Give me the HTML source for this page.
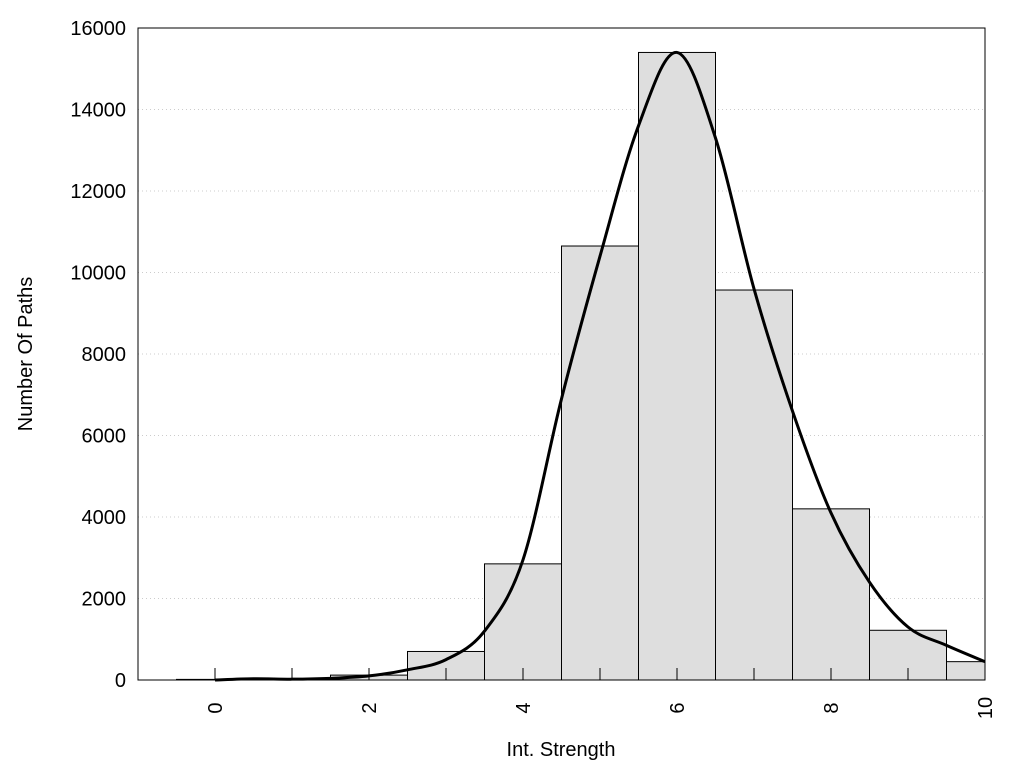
<!DOCTYPE html>
<html><head><meta charset="utf-8"><style>
body{margin:0;background:#fff;}
svg{display:block;font-family:"Liberation Sans",sans-serif;}
</style></head><body>
<svg width="1024" height="768" id="chart"></svg>
<script>
const binCenters=[0,1,2,3,4,5,6,7,8,9,10];
const binCounts=[15,15,120,700,2850,10650,15400,9570,4200,1220,450];
const curveX=[0,0.5,1,1.5,2,2.5,3,3.5,4,4.5,5,5.5,6,6.5,7,7.5,8,8.5,9,9.5,10];
const curveY=[0,30,20,40,100,250,500,1200,2950,6900,10400,13600,15400,13300,9600,6600,4100,2400,1300,850,450];
const yTicks=[0,2000,4000,6000,8000,10000,12000,14000,16000];
const xTickLabels=[0,2,4,6,8,10];
const xTicks=[0,1,2,3,4,5,6,7,8,9,10];
const L=138,R=985,T=28,B=680;
const xs=v=>L+(v+1)/11*(R-L);
const ys=v=>B-v/16000*(B-T);
const svg=document.getElementById('chart');
const NS='http://www.w3.org/2000/svg';
function mk(tag,attrs,parent){const e=document.createElementNS(NS,tag);for(const k in attrs)e.setAttribute(k,attrs[k]);(parent||svg).appendChild(e);return e;}
// grid
yTicks.forEach(v=>{if(v===0||v===16000)return;const g=mk('line',{x1:L,x2:R,y1:ys(v),y2:ys(v),stroke:'#ccc','stroke-dasharray':'1,3','stroke-width':1});

});
// bars
binCenters.forEach((c,i)=>{const x0=Math.max(xs(c-0.5),L),x1=Math.min(xs(c+0.5),R);const r=mk('rect',{x:x0,y:ys(binCounts[i]),width:x1-x0,height:B-ys(binCounts[i]),fill:'#dedede',stroke:'#000','stroke-width':1});

});
// ticks
xTicks.forEach(v=>{const t=mk('line',{x1:xs(v),x2:xs(v),y1:B,y2:B-12,stroke:'#000','stroke-width':1});

});
// curve (catmull-rom)
const pts=curveX.map((x,i)=>[xs(x),ys(curveY[i])]);
let d='M'+pts[0][0]+','+pts[0][1];
for(let i=0;i<pts.length-1;i++){const p0=pts[Math.max(i-1,0)],p1=pts[i],p2=pts[i+1],p3=pts[Math.min(i+2,pts.length-1)];
d+=' C'+(p1[0]+(p2[0]-p0[0])/6)+','+(p1[1]+(p2[1]-p0[1])/6)+' '+(p2[0]-(p3[0]-p1[0])/6)+','+(p2[1]-(p3[1]-p1[1])/6)+' '+p2[0]+','+p2[1];}
const c=mk('path',{d:d,fill:'none',stroke:'#000','stroke-width':3});


// frame
const f=mk('rect',{x:L,y:T,width:R-L,height:B-T,fill:'none',stroke:'#000','stroke-width':1});


// y labels
yTicks.forEach(v=>{const t=mk('text',{x:126,y:ys(v)+7,'text-anchor':'end','font-size':20});t.textContent=v;

});
xTickLabels.forEach(v=>{const t=mk('text',{x:0,y:0,'text-anchor':'middle','font-size':20,transform:'translate('+(xs(v)+7)+',708) rotate(-90)'});t.textContent=v;

});
const xt=mk('text',{x:561,y:756,'text-anchor':'middle','font-size':20});xt.textContent='Int. Strength';


const yt=mk('text',{x:0,y:0,'text-anchor':'middle','font-size':20,transform:'translate(32,354) rotate(-90)'});yt.textContent='Number Of Paths';


</script>
</body></html>
